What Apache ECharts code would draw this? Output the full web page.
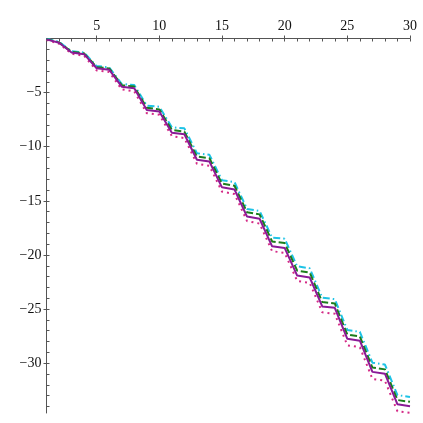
<!DOCTYPE html>
<html>
<head>
<meta charset="utf-8">
<script src="https://cdn.jsdelivr.net/npm/echarts@6/dist/echarts.min.js"></script>
<style>html,body{margin:0;padding:0;background:#fff;}#c{width:423px;height:423px;}</style>
</head>
<body>
<div id="c"></div>
<script>
const xs = [1,2,3,4,5,6,7,8,9,10,11,12,13,14,15,16,17,18,19,20,21,22,23,24,25,26,27,28,29,30];
const purpleSolid = [-0.08,-0.40,-1.30,-1.45,-2.75,-2.88,-4.45,-4.60,-6.60,-6.75,-8.70,-8.85,-11.20,-11.37,-13.75,-13.95,-16.45,-16.65,-19.20,-19.35,-21.90,-22.08,-24.75,-24.88,-27.75,-27.92,-30.80,-30.97,-33.80,-33.97];
const greenDash = [-0.06,-0.36,-1.24,-1.37,-2.65,-2.76,-4.31,-4.44,-6.40,-6.55,-8.45,-8.60,-10.90,-11.07,-13.40,-13.60,-16.05,-16.25,-18.75,-18.90,-21.45,-21.63,-24.35,-24.48,-27.35,-27.52,-30.40,-30.57,-33.40,-33.57];
const cyanDashDot = [-0.03,-0.30,-1.18,-1.30,-2.55,-2.66,-4.20,-4.30,-6.20,-6.30,-8.20,-8.30,-10.60,-10.75,-13.10,-13.27,-15.75,-15.93,-18.40,-18.50,-21.05,-21.23,-23.95,-24.08,-26.93,-27.10,-29.95,-30.12,-32.95,-33.12];
const magentaDot = [-0.13,-0.48,-1.40,-1.60,-2.95,-3.10,-4.70,-4.88,-6.90,-7.05,-9.02,-9.20,-11.57,-11.77,-14.15,-14.37,-16.87,-17.10,-19.65,-19.80,-22.40,-22.58,-25.30,-25.43,-28.35,-28.52,-31.45,-31.62,-34.45,-34.58];
const xTickLabels = [5,10,15,20,25,30];
const yTickLabels = [-5,-10,-15,-20,-25,-30];
const xMinorTicks = xs;
const yMinorTicks = [-1,-2,-3,-4,-5,-6,-7,-8,-9,-10,-11,-12,-13,-14,-15,-16,-17,-18,-19,-20,-21,-22,-23,-24,-25,-26,-27,-28,-29,-30,-31,-32,-33,-34];

const pairs = arr => xs.map((x,i)=>[x,arr[i]]);
const font = {fontFamily:"'Liberation Serif', 'Times New Roman', Times, serif", fontSize:14, color:'#111'};
const lineCol = '#555';

const chart = echarts.init(document.getElementById('c'));
chart.setOption({
  animation:false,
  backgroundColor:'#fff',
  grid:{left:46.5, right:13, top:38.5, bottom:10, containLabel:false},
  xAxis:[
    {type:'value', min:1, max:30, position:'top',
     axisLine:{onZero:false, lineStyle:{color:lineCol, width:1}},
     axisTick:{show:true, inside:false, length:3, customValues:xTickLabels, lineStyle:{color:lineCol}},
     axisLabel:{show:true, customValues:xTickLabels, margin:5, ...font},
     splitLine:{show:false}},
    {type:'value', min:1, max:30, position:'top', gridIndex:0,
     axisLine:{show:false, onZero:false},
     axisTick:{show:true, inside:true, length:3, customValues:xMinorTicks, lineStyle:{color:lineCol}},
     axisLabel:{show:false},
     splitLine:{show:false}}
  ],
  yAxis:[
    {type:'value', min:-34.6, max:0, position:'left',
     axisLine:{show:true, onZero:false, lineStyle:{color:lineCol, width:1}},
     axisTick:{show:true, inside:false, length:3, customValues:yTickLabels, lineStyle:{color:lineCol}},
     axisLabel:{show:true, customValues:yTickLabels, margin:5, ...font,
       formatter: v => String(v).replace('-', '\u2212')},
     splitLine:{show:false}},
    {type:'value', min:-34.6, max:0, position:'left',
     axisLine:{show:false, onZero:false},
     axisTick:{show:true, inside:true, length:3, customValues:yMinorTicks, lineStyle:{color:lineCol}},
     axisLabel:{show:false},
     splitLine:{show:false}}
  ],
  series:[
    {type:'line', data:pairs(magentaDot), showSymbol:false, symbol:'none',
     lineStyle:{color:'#d42a86', width:2, type:[2,4], cap:'butt'}},
    {type:'line', data:pairs(cyanDashDot), showSymbol:false, symbol:'none',
     lineStyle:{color:'#1ec3e6', width:2, type:[7,3,1.5,3]}},
    {type:'line', data:pairs(greenDash), showSymbol:false, symbol:'none',
     lineStyle:{color:'#1b7d1b', width:2, type:[7,3]}},
    {type:'line', data:pairs(purpleSolid), showSymbol:false, symbol:'none',
     lineStyle:{color:'#8a1a96', width:2}}
  ]
});
</script>
</body>
</html>
